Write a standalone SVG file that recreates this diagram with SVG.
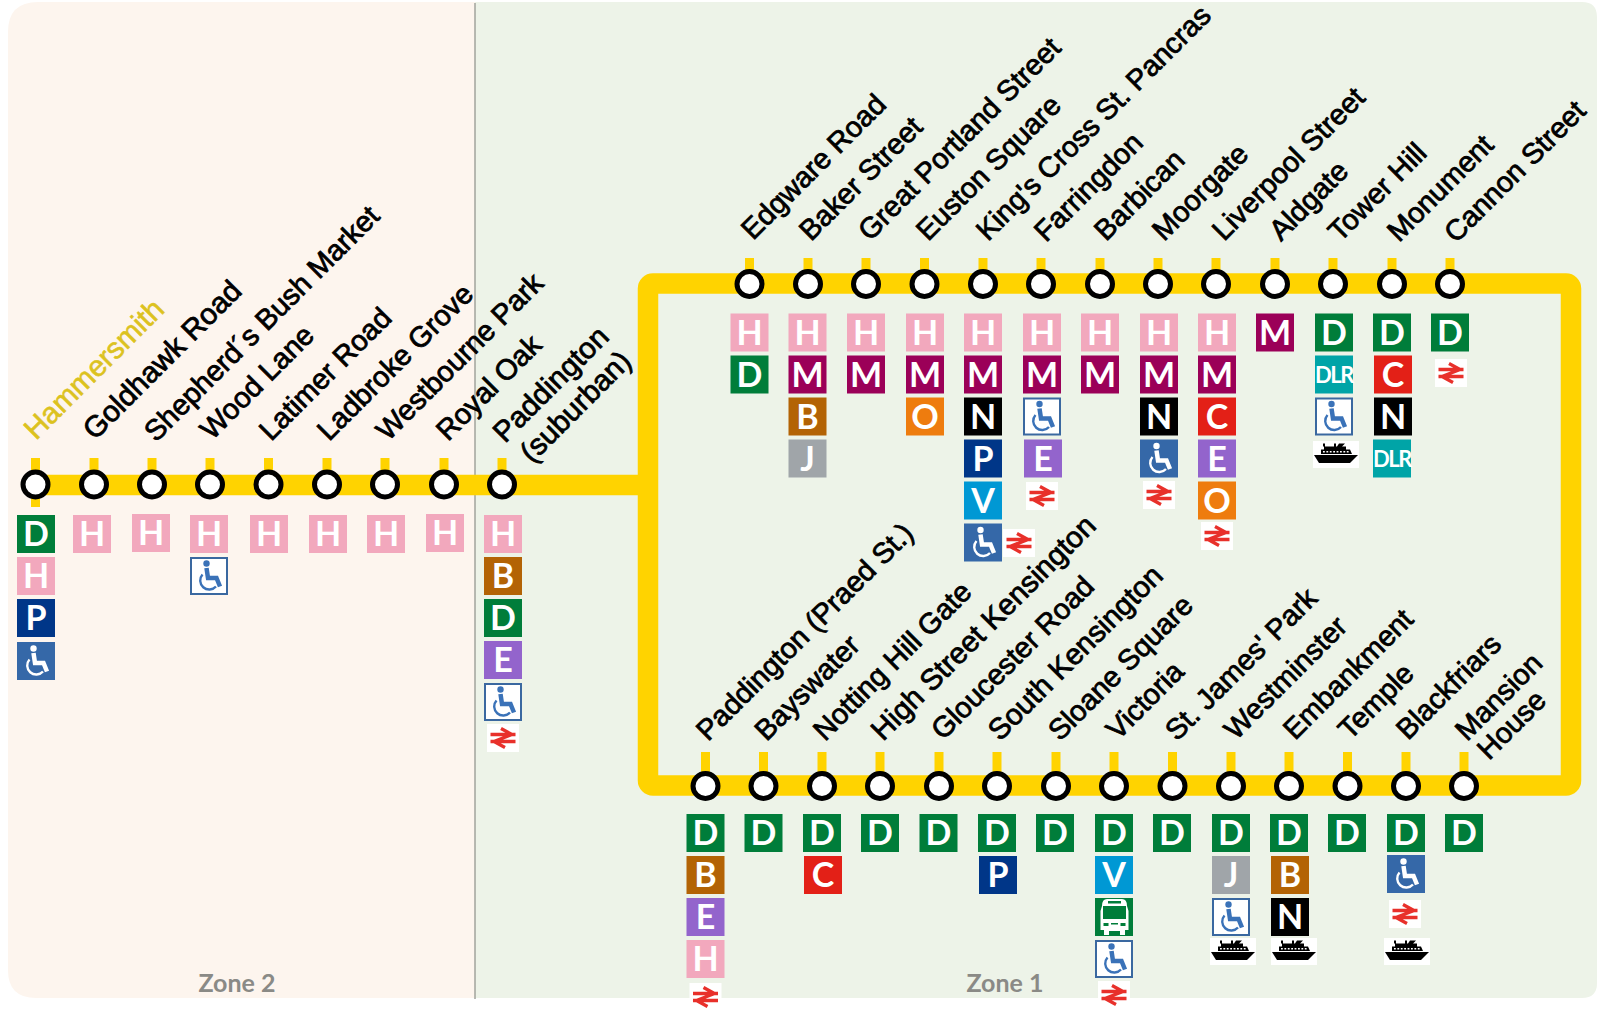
<svg xmlns="http://www.w3.org/2000/svg" width="1603" height="1012" viewBox="0 0 1603 1012">
<style>
text{font-family:"Liberation Sans",Arial,sans-serif}
.n{font-size:28.8px;fill:#000;stroke:#000;stroke-width:.8px}
.w{font-size:29.5px}
.nh{font-size:29.500px;fill:#dcc21e;stroke:#dcc21e;stroke-width:.6px}
.z{font-family:Lato,"Liberation Sans",sans-serif;font-size:25px;font-weight:700;fill:#8a8a86;text-anchor:middle}
.l{font-family:Lato,"Liberation Sans",sans-serif;font-size:34px;font-weight:700;fill:#fff;text-anchor:middle}
.dlr{font-family:Lato,"Liberation Sans",sans-serif;font-size:22px;font-weight:700;fill:#fff;text-anchor:middle;letter-spacing:-1.500px}
.b{width:38px;height:38px}
.D{fill:#007d3a}.H{fill:#f2a8bd}.P{fill:#003688}.M{fill:#9b0058}.B{fill:#b36305}.J{fill:#a0a5a9}.O{fill:#ee7c0e}.N{fill:#000}.V{fill:#0098d4}.E{fill:#9364cc}.C{fill:#e32017}.X{fill:#00a4a7}
.tick{fill:#ffd300;width:9px}
.st{fill:#fff;stroke:#000;stroke-width:5px}
.line{fill:none;stroke:#ffd300;stroke-width:20.500px;stroke-linejoin:round}
</style>
<defs>
<g id="wc"><circle cx="16.500" cy="6.500" r="3.200" fill="currentColor"/><path d="M16.500 11L18 21H26.500L30 29.500" fill="none" stroke="currentColor" stroke-width="4.500"/><path d="M12.500 17.500A9 9 0 1 0 26 29.500" fill="none" stroke="currentColor" stroke-width="2.400"/></g>
<g id="wcf"><rect width="38" height="38" fill="#3568a8"/><use href="#wc" color="#fff"/></g>
<g id="wco"><rect x="1" y="1" width="36" height="36" fill="#fff" stroke="#3a68a0" stroke-width="2"/><use href="#wc" color="#3a72b8"/></g>
<g id="rail"><rect x="-16" y="-14" width="32" height="28" fill="#fff"/><path d="M-12.500 -3.500H12.500M-12.500 3.500H12.500M-2 -9.500L9 -3.500L-9 3.500L2 9.500" fill="none" stroke="#e8302a" stroke-width="3.300"/></g>
<g id="ship"><rect width="46" height="27" fill="#fff"/><path d="M1 14H45L37 22H6ZM8 13V8.500H11V5.500H10V2.500H12V5.500H21V2.500H23V5.500H24L26 2.500H32L29 5.500H33V8.500H37L39 13Z" fill="#000"/><path d="M10 10.700H36" stroke="#fff" stroke-width="1.600" stroke-dasharray="1.800 1.600"/></g>
<g id="bus"><rect width="38" height="38" fill="#007d3a"/><path d="M7 8Q7 1 12 1H27Q32 1 32 8L33.500 13V32H30V37H25V33H14V37H9V32H5.500V13Z" fill="#fff"/><rect x="8" y="8" width="23" height="13" fill="#007d3a"/><rect x="13" y="3" width="13" height="2.500" fill="#007d3a"/><rect x="8.500" y="25" width="5" height="3" fill="#007d3a"/><rect x="25.500" y="25" width="5" height="3" fill="#007d3a"/><rect x="16" y="25" width="7" height="1.500" fill="#007d3a"/></g>
</defs>
<rect width="1603" height="1012" fill="#fff"/>
<g id="zones">
<path d="M475 2H38Q8 2 8 32V970Q8 998 36 998H475Z" fill="#fdf5ee"/>
<path d="M475 2H1582Q1597 2 1597 17V983Q1597 998 1582 998H475Z" fill="#edf3e8"/>
<line x1="475" y1="3" x2="475" y2="999" stroke="#a0a39c" stroke-width="1.500"/>
<text class="z" x="237" y="992">Zone 2</text>
<text class="z" x="1005" y="992">Zone 1</text>
</g>
<g id="connectors">
<path class="line" d="M35 485H648"/>
<rect class="line" x="648" y="283.500" width="923" height="502" rx="5"/>
</g>
<g id="hammersmith"><rect class="tick" x="31" y="458" height="49"/><circle class="st" cx="35.500" cy="484.500" r="12.500"/><text class="nh" transform="translate(36 441) rotate(-45)">Hammersmith</text>
<rect class="b D" x="17" y="515"/><text class="l" x="36" y="546">D</text><rect class="b H" x="17" y="557"/><text class="l" x="36" y="588">H</text><rect class="b P" x="17" y="599"/><text class="l" x="36" y="630">P</text><use href="#wcf" x="17" y="642"/></g>
<g id="goldhawk-road"><rect class="tick" x="89.500" y="458" height="26"/><circle class="st" cx="94" cy="484.500" r="12.500"/><text class="n w" transform="translate(95 441) rotate(-45)">Goldhawk Road</text>
<rect class="b H" x="73" y="515"/><text class="l" x="92" y="546">H</text></g>
<g id="shepherds-bush-market"><rect class="tick" x="147.500" y="458" height="26"/><circle class="st" cx="152" cy="484.500" r="12.500"/><text class="n" transform="translate(156 443) rotate(-45)">Shepherd´s Bush Market</text>
<rect class="b H" x="132" y="514"/><text class="l" x="151" y="545">H</text></g>
<g id="wood-lane"><rect class="tick" x="205.500" y="458" height="26"/><circle class="st" cx="210" cy="484.500" r="12.500"/><text class="n" transform="translate(212 441) rotate(-45)">Wood Lane</text>
<rect class="b H" x="190" y="515"/><text class="l" x="209" y="546">H</text><use href="#wco" x="190" y="557"/></g>
<g id="latimer-road"><rect class="tick" x="264" y="458" height="26"/><circle class="st" cx="268.500" cy="484.500" r="12.500"/><text class="n" transform="translate(271 442) rotate(-45)">Latimer Road</text>
<rect class="b H" x="250" y="515"/><text class="l" x="269" y="546">H</text></g>
<g id="ladbroke-grove"><rect class="tick" x="322.500" y="458" height="26"/><circle class="st" cx="327" cy="484.500" r="12.500"/><text class="n" transform="translate(329 442) rotate(-45)">Ladbroke Grove</text>
<rect class="b H" x="309" y="515"/><text class="l" x="328" y="546">H</text></g>
<g id="westbourne-park"><rect class="tick" x="380.500" y="458" height="26"/><circle class="st" cx="385" cy="484.500" r="12.500"/><text class="n" transform="translate(388 442) rotate(-45)">Westbourne Park</text>
<rect class="b H" x="367" y="515"/><text class="l" x="386" y="546">H</text></g>
<g id="royal-oak"><rect class="tick" x="439.500" y="458" height="26"/><circle class="st" cx="444" cy="484.500" r="12.500"/><text class="n" transform="translate(448 442) rotate(-45)">Royal Oak</text>
<rect class="b H" x="426" y="514"/><text class="l" x="445" y="545">H</text></g>
<g id="paddington-suburban"><rect class="tick" x="497.500" y="458" height="26"/><circle class="st" cx="502" cy="484.500" r="12.500"/><text class="n w" transform="translate(505 444) rotate(-45)">Paddington</text><text class="n w" transform="translate(532 464) rotate(-45)">(suburban)</text>
<rect class="b H" x="484" y="515"/><text class="l" x="503" y="546">H</text><rect class="b B" x="484" y="557"/><text class="l" x="503" y="588">B</text><rect class="b D" x="484" y="599"/><text class="l" x="503" y="630">D</text><rect class="b E" x="484" y="641"/><text class="l" x="503" y="672">E</text><use href="#wco" x="484" y="683"/><use href="#rail" x="503" y="738"/></g>
<g id="edgware-road"><rect class="tick" x="745" y="258" height="26"/><circle class="st" cx="749.500" cy="284" r="12.500"/><text class="n" transform="translate(753 241) rotate(-45)">Edgware Road</text>
<rect class="b H" x="730.500" y="313.500"/><text class="l" x="749.500" y="344.500">H</text><rect class="b D" x="730.500" y="355.500"/><text class="l" x="749.500" y="386.500">D</text></g>
<g id="baker-street"><rect class="tick" x="803.500" y="258" height="26"/><circle class="st" cx="808" cy="284" r="12.500"/><text class="n" transform="translate(811 242) rotate(-45)">Baker Street</text>
<rect class="b H" x="788.500" y="313.500"/><text class="l" x="807.500" y="344.500">H</text><rect class="b M" x="788.500" y="355.500"/><text class="l" x="807.500" y="386.500">M</text><rect class="b B" x="788.500" y="397.500"/><text class="l" x="807.500" y="428.500">B</text><rect class="b J" x="788.500" y="439.500"/><text class="l" x="807.500" y="470.500">J</text></g>
<g id="great-portland-street"><rect class="tick" x="861.500" y="258" height="26"/><circle class="st" cx="866" cy="284" r="12.500"/><text class="n" transform="translate(870 242) rotate(-45)">Great Portland Street</text>
<rect class="b H" x="847" y="313.500"/><text class="l" x="866" y="344.500">H</text><rect class="b M" x="847" y="355.500"/><text class="l" x="866" y="386.500">M</text></g>
<g id="euston-square"><rect class="tick" x="920" y="258" height="26"/><circle class="st" cx="924.500" cy="284" r="12.500"/><text class="n" transform="translate(928 242) rotate(-45)">Euston Square</text>
<rect class="b H" x="906" y="313.500"/><text class="l" x="925" y="344.500">H</text><rect class="b M" x="906" y="355.500"/><text class="l" x="925" y="386.500">M</text><rect class="b O" x="906" y="397.500"/><text class="l" x="925" y="428.500">O</text></g>
<g id="kings-cross"><rect class="tick" x="978.500" y="258" height="26"/><circle class="st" cx="983" cy="284" r="12.500"/><text class="n" transform="translate(988 242) rotate(-45)">King's Cross St. Pancras</text>
<rect class="b H" x="964" y="313.500"/><text class="l" x="983" y="344.500">H</text><rect class="b M" x="964" y="355.500"/><text class="l" x="983" y="386.500">M</text><rect class="b N" x="964" y="397.500"/><text class="l" x="983" y="428.500">N</text><rect class="b P" x="964" y="439.500"/><text class="l" x="983" y="470.500">P</text><rect class="b V" x="964" y="481.500"/><text class="l" x="983" y="512.500">V</text><use href="#wcf" x="964" y="523.500"/><use href="#rail" x="1019" y="543"/></g>
<g id="farringdon"><rect class="tick" x="1036.500" y="258" height="26"/><circle class="st" cx="1041" cy="284" r="12.500"/><text class="n" transform="translate(1046 243) rotate(-45)">Farringdon</text>
<rect class="b H" x="1023" y="313.500"/><text class="l" x="1042" y="344.500">H</text><rect class="b M" x="1023" y="355.500"/><text class="l" x="1042" y="386.500">M</text><use href="#wco" x="1023" y="397.500"/><rect class="b E" x="1024" y="439.500"/><text class="l" x="1043" y="470.500">E</text><use href="#rail" x="1042" y="496"/></g>
<g id="barbican"><rect class="tick" x="1095.500" y="258" height="26"/><circle class="st" cx="1100" cy="284" r="12.500"/><text class="n" transform="translate(1106 242) rotate(-45)">Barbican</text>
<rect class="b H" x="1081" y="313.500"/><text class="l" x="1100" y="344.500">H</text><rect class="b M" x="1081" y="355.500"/><text class="l" x="1100" y="386.500">M</text></g>
<g id="moorgate"><rect class="tick" x="1153.500" y="258" height="26"/><circle class="st" cx="1158" cy="284" r="12.500"/><text class="n" transform="translate(1164 242) rotate(-45)">Moorgate</text>
<rect class="b H" x="1140" y="313.500"/><text class="l" x="1159" y="344.500">H</text><rect class="b M" x="1140" y="355.500"/><text class="l" x="1159" y="386.500">M</text><rect class="b N" x="1140" y="397.500"/><text class="l" x="1159" y="428.500">N</text><use href="#wcf" x="1140" y="439.500"/><use href="#rail" x="1159" y="495"/></g>
<g id="liverpool-street"><rect class="tick" x="1211.500" y="258" height="26"/><circle class="st" cx="1216" cy="284" r="12.500"/><text class="n" transform="translate(1224 242) rotate(-45)">Liverpool Street</text>
<rect class="b H" x="1198" y="313.500"/><text class="l" x="1217" y="344.500">H</text><rect class="b M" x="1198" y="355.500"/><text class="l" x="1217" y="386.500">M</text><rect class="b C" x="1198" y="397.500"/><text class="l" x="1217" y="428.500">C</text><rect class="b E" x="1198" y="439.500"/><text class="l" x="1217" y="470.500">E</text><rect class="b O" x="1198" y="481.500"/><text class="l" x="1217" y="512.500">O</text><use href="#rail" x="1217" y="536"/></g>
<g id="aldgate"><rect class="tick" x="1270.500" y="258" height="26"/><circle class="st" cx="1275" cy="284" r="12.500"/><text class="n" transform="translate(1281 242) rotate(-45)">Aldgate</text>
<rect class="b M" x="1256" y="313.500"/><text class="l" x="1275" y="344.500">M</text></g>
<g id="tower-hill"><rect class="tick" x="1328.500" y="258" height="26"/><circle class="st" cx="1333" cy="284" r="12.500"/><text class="n" transform="translate(1340 243) rotate(-45)">Tower Hill</text>
<rect class="b D" x="1315" y="313.500"/><text class="l" x="1334" y="344.500">D</text><rect class="b X" x="1315" y="355.500"/><text class="dlr" x="1334" y="383">DLR</text><use href="#wco" x="1315" y="397.500"/><use href="#ship" x="1313" y="441"/></g>
<g id="monument"><rect class="tick" x="1387.500" y="258" height="26"/><circle class="st" cx="1392" cy="284" r="12.500"/><text class="n" transform="translate(1399 243) rotate(-45)">Monument</text>
<rect class="b D" x="1373" y="313.500"/><text class="l" x="1392" y="344.500">D</text><rect class="b C" x="1374" y="355.500"/><text class="l" x="1393" y="386.500">C</text><rect class="b N" x="1374" y="397.500"/><text class="l" x="1393" y="428.500">N</text><rect class="b X" x="1373" y="439.500"/><text class="dlr" x="1392" y="467">DLR</text></g>
<g id="cannon-street"><rect class="tick" x="1445.500" y="258" height="26"/><circle class="st" cx="1450" cy="284" r="12.500"/><text class="n" transform="translate(1456 244) rotate(-45)">Cannon Street</text>
<rect class="b D" x="1431" y="313.500"/><text class="l" x="1450" y="344.500">D</text><use href="#rail" x="1451" y="373"/></g>
<g id="paddington-praed"><rect class="tick" x="701" y="752" height="34"/><circle class="st" cx="705.500" cy="786" r="12.500"/><text class="n" transform="translate(708 742) rotate(-45)">Paddington (Praed St.)</text>
<rect class="b D" x="686.500" y="814"/><text class="l" x="705.500" y="845">D</text><rect class="b B" x="686.500" y="856"/><text class="l" x="705.500" y="887">B</text><rect class="b E" x="686.500" y="898"/><text class="l" x="705.500" y="929">E</text><rect class="b H" x="686.500" y="940"/><text class="l" x="705.500" y="971">H</text><use href="#rail" x="705.500" y="997"/></g>
<g id="bayswater"><rect class="tick" x="759" y="752" height="34"/><circle class="st" cx="763.500" cy="786" r="12.500"/><text class="n" transform="translate(766.500 742) rotate(-45)">Bayswater</text>
<rect class="b D" x="744.500" y="814"/><text class="l" x="763.500" y="845">D</text></g>
<g id="notting-hill-gate"><rect class="tick" x="817.500" y="752" height="34"/><circle class="st" cx="822" cy="786" r="12.500"/><text class="n" transform="translate(825 742) rotate(-45)">Notting Hill Gate</text>
<rect class="b D" x="803" y="814"/><text class="l" x="822" y="845">D</text><rect class="b C" x="804" y="856"/><text class="l" x="823" y="887">C</text></g>
<g id="high-street-kensington"><rect class="tick" x="875.500" y="752" height="34"/><circle class="st" cx="880" cy="786" r="12.500"/><text class="n w" transform="translate(883 742) rotate(-45)">High Street Kensington</text>
<rect class="b D" x="861" y="814"/><text class="l" x="880" y="845">D</text></g>
<g id="gloucester-road"><rect class="tick" x="934.500" y="752" height="34"/><circle class="st" cx="939" cy="786" r="12.500"/><text class="n" transform="translate(943 741) rotate(-45)">Gloucester Road</text>
<rect class="b D" x="919.500" y="814"/><text class="l" x="938.500" y="845">D</text></g>
<g id="south-kensington"><rect class="tick" x="992.500" y="752" height="34"/><circle class="st" cx="997" cy="786" r="12.500"/><text class="n w" transform="translate(1000 742) rotate(-45)">South Kensington</text>
<rect class="b D" x="978" y="814"/><text class="l" x="997" y="845">D</text><rect class="b P" x="979" y="856"/><text class="l" x="998" y="887">P</text></g>
<g id="sloane-square"><rect class="tick" x="1051.500" y="752" height="34"/><circle class="st" cx="1056" cy="786" r="12.500"/><text class="n" transform="translate(1060 742) rotate(-45)">Sloane Square</text>
<rect class="b D" x="1036" y="814"/><text class="l" x="1055" y="845">D</text></g>
<g id="victoria"><rect class="tick" x="1109.500" y="752" height="34"/><circle class="st" cx="1114" cy="786" r="12.500"/><text class="n" transform="translate(1118 741) rotate(-45)">Victoria</text>
<rect class="b D" x="1095" y="814"/><text class="l" x="1114" y="845">D</text><rect class="b V" x="1095" y="856"/><text class="l" x="1114" y="887">V</text><use href="#bus" x="1095" y="898"/><use href="#wco" x="1095" y="940"/><use href="#rail" x="1114" y="995"/></g>
<g id="st-james-park"><rect class="tick" x="1168" y="752" height="34"/><circle class="st" cx="1172.500" cy="786" r="12.500"/><text class="n" transform="translate(1177 742) rotate(-45)">St. James' Park</text>
<rect class="b D" x="1153" y="814"/><text class="l" x="1172" y="845">D</text></g>
<g id="westminster"><rect class="tick" x="1226.500" y="752" height="34"/><circle class="st" cx="1231" cy="786" r="12.500"/><text class="n" transform="translate(1236 741) rotate(-45)">Westminster</text>
<rect class="b D" x="1212" y="814"/><text class="l" x="1231" y="845">D</text><rect class="b J" x="1212" y="856"/><text class="l" x="1231" y="887">J</text><use href="#wco" x="1212" y="898"/><use href="#ship" x="1210" y="938"/></g>
<g id="embankment"><rect class="tick" x="1284.500" y="752" height="34"/><circle class="st" cx="1289" cy="786" r="12.500"/><text class="n" transform="translate(1295 741) rotate(-45)">Embankment</text>
<rect class="b D" x="1270" y="814"/><text class="l" x="1289" y="845">D</text><rect class="b B" x="1271" y="856"/><text class="l" x="1290" y="887">B</text><rect class="b N" x="1271" y="898"/><text class="l" x="1290" y="929">N</text><use href="#ship" x="1271" y="938"/></g>
<g id="temple"><rect class="tick" x="1343" y="752" height="34"/><circle class="st" cx="1347.500" cy="786" r="12.500"/><text class="n" transform="translate(1350 741) rotate(-45)">Temple</text>
<rect class="b D" x="1328" y="814"/><text class="l" x="1347" y="845">D</text></g>
<g id="blackfriars"><rect class="tick" x="1401.500" y="752" height="34"/><circle class="st" cx="1406" cy="786" r="12.500"/><text class="n" transform="translate(1408 741) rotate(-45)">Blackfriars</text>
<rect class="b D" x="1387" y="814"/><text class="l" x="1406" y="845">D</text><use href="#wcf" x="1387" y="855"/><use href="#rail" x="1405" y="914"/><use href="#ship" x="1384" y="938"/></g>
<g id="mansion-house"><rect class="tick" x="1459.500" y="752" height="34"/><circle class="st" cx="1464" cy="786" r="12.500"/><text class="n" transform="translate(1467 742) rotate(-45)">Mansion</text><text class="n" transform="translate(1489 761) rotate(-45)">House</text>
<rect class="b D" x="1445" y="814"/><text class="l" x="1464" y="845">D</text></g>
</svg>
